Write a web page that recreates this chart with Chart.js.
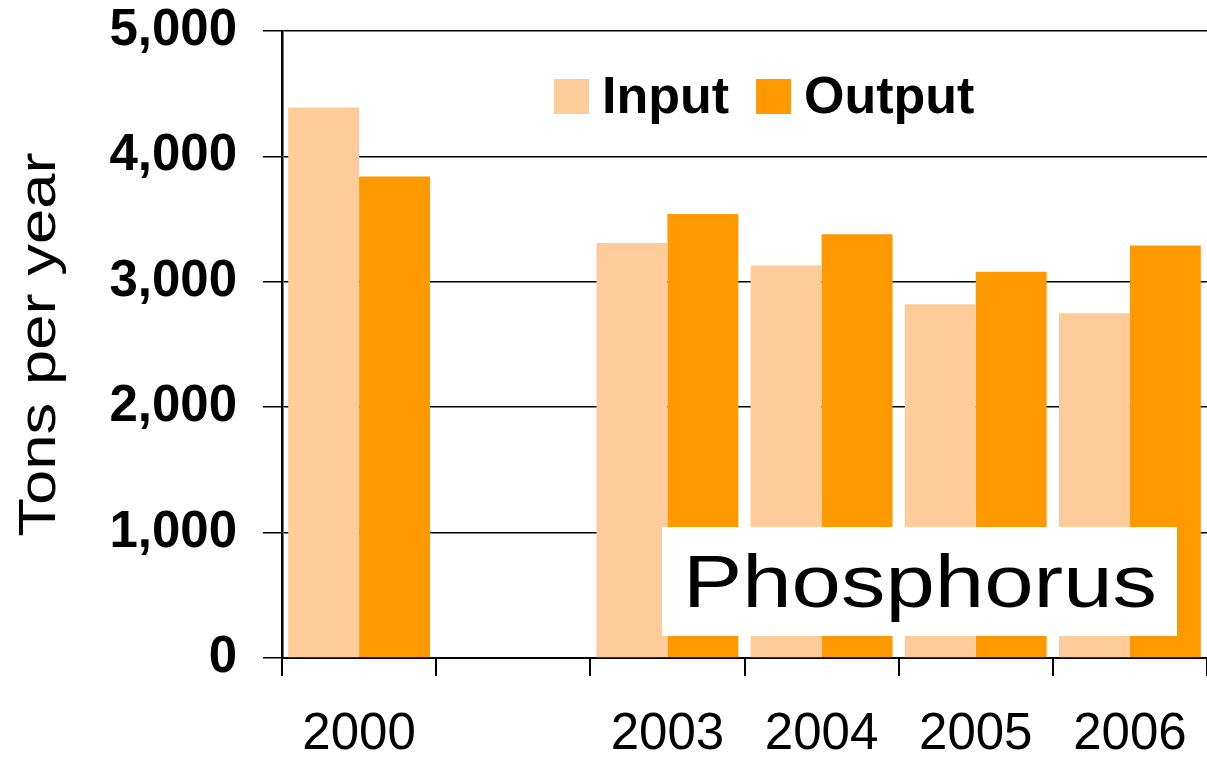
<!DOCTYPE html>
<html>
<head>
<meta charset="utf-8">
<title>Phosphorus - Tons per year</title>
<script src="https://cdn.jsdelivr.net/npm/chart.js@4.4.1/dist/chart.umd.min.js"></script>
<style>
    html, body { margin: 0; padding: 0; background: #fff; }
    #wrap { width: 1207px; height: 758px; }
</style>
</head>
<body>
<div id="wrap"><canvas id="chart" width="1207" height="758"></canvas></div>
<script>
// values (tons per year)
const years = ['2000', '', '2003', '2004', '2005', '2006'];
const inputTons = [4390, null, 3310, 3130, 2820, 2750];
const outputTons = [3840, null, 3540, 3380, 3080, 3290];
const yTicks = [0, 1000, 2000, 3000, 4000, 5000];

const FONT = '"Liberation Sans", Arial, Helvetica, sans-serif';
const INPUT_COLOR = '#FDCC9A';
const OUTPUT_COLOR = '#FF9900';

// legend drawn inside the plot, near the top
const insideLegend = {
    id: 'insideLegend',
    afterDraw(chart) {
        const ctx = chart.ctx;
        const area = chart.chartArea;
        const box = 35;
        const top = area.top + 48;
        let x = area.left + 272;

        ctx.save();
        ctx.font = 'bold 52px ' + FONT;
        ctx.textAlign = 'left';
        ctx.textBaseline = 'alphabetic';
        chart.data.datasets.forEach(ds => {
            ctx.fillStyle = ds.backgroundColor;
            ctx.fillRect(x, top, box, box);
            x += box + 13;
            ctx.fillStyle = '#000';
            ctx.fillText(ds.label, x, top + 34);
            x += ctx.measureText(ds.label).width + 27;
        });
        ctx.restore();
    }
};

// white label box "Phosphorus" over the bars, and the stretched y title
const labels = {
    id: 'labels',
    afterDatasetsDraw(chart) {
        const ctx = chart.ctx;
        const area = chart.chartArea;

        ctx.save();
        const bx = area.left + 380;
        const by = area.bottom - 131;
        ctx.fillStyle = '#fff';
        ctx.fillRect(bx, by, 515, 109);

        ctx.fillStyle = '#000';
        ctx.font = '74px ' + FONT;
        ctx.textAlign = 'left';
        ctx.textBaseline = 'alphabetic';
        ctx.translate(bx + 21, by + 80);
        ctx.scale(1.2, 1);
        ctx.fillText('Phosphorus', 0, 0);
        ctx.restore();
    },
    afterDraw(chart) {
        const ctx = chart.ctx;
        const area = chart.chartArea;

        ctx.save();
        ctx.fillStyle = '#000';
        ctx.font = '52px ' + FONT;
        ctx.textAlign = 'center';
        ctx.textBaseline = 'alphabetic';
        ctx.translate(55, (area.top + area.bottom) / 2);
        ctx.rotate(-Math.PI / 2);
        ctx.scale(1.22, 1);
        ctx.fillText('Tons per year', 0, 0);
        ctx.restore();
    }
};

const chart = new Chart(document.getElementById('chart'), {
    type: 'bar',
    data: {
        labels: years,
        datasets: [
            {
                label: 'Input',
                data: inputTons,
                backgroundColor: INPUT_COLOR,
                borderWidth: 0
            },
            {
                label: 'Output',
                data: outputTons,
                backgroundColor: OUTPUT_COLOR,
                borderWidth: 0
            }
        ]
    },
    options: {
        responsive: false,
        devicePixelRatio: 1,
        animation: false,
        layout: {
            padding: { top: 31, right: 0, bottom: 0, left: 0 }
        },
        datasets: {
            bar: {
                categoryPercentage: 0.92,
                barPercentage: 1.0
            }
        },
        plugins: {
            legend: { display: false },
            tooltip: { enabled: false }
        },
        scales: {
            x: {
                z: 1,
                offset: true,
                grid: {
                    offset: true,
                    drawOnChartArea: false,
                    drawTicks: true,
                    tickLength: 18,
                    color: '#000',
                    lineWidth: 2
                },
                border: { display: true, color: '#000', width: 2 },
                ticks: {
                    color: '#000',
                    padding: 28,
                    maxRotation: 0,
                    autoSkip: false,
                    font: { family: FONT, size: 51 }
                },
                afterFit(scale) {
                    // plot runs right up to the canvas edge
                    scale.height = 100;
                    scale.paddingLeft = 0;
                    scale.paddingRight = 0;
                }
            },
            y: {
                min: 0,
                max: 5000,
                afterBuildTicks(scale) {
                    scale.ticks = yTicks.map(v => ({ value: v }));
                },
                grid: {
                    color: '#000',
                    lineWidth: 1.5,
                    drawTicks: true,
                    tickLength: 19
                },
                border: { display: true, color: '#000', width: 2.5 },
                ticks: {
                    color: '#000',
                    padding: 26,
                    font: { family: FONT, size: 51, weight: 'bold' },
                    callback: v => v.toLocaleString('en-US')
                },
                afterFit(scale) {
                    scale.width = 282;
                    scale.paddingTop = 0;
                    scale.paddingBottom = 0;
                }
            }
        }
    },
    plugins: [insideLegend, labels]
});
</script>
</body>
</html>
